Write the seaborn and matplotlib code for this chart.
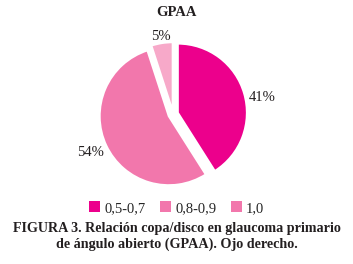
import numpy as np
import seaborn as sns
import matplotlib.pyplot as plt
from matplotlib.patches import Patch

categories = ["0,5-0,7", "0,8-0,9", "1,0"]
values = [41, 54, 5]
colors = ["#EC008C", "#F277AC", "#F7A9C9"]
legend_colors = ["#EC008C", "#F277AC", "#F277AC"]
title = "GPAA"
caption = "FIGURA 3. Relación copa/disco en glaucoma primario\nde ángulo abierto (GPAA). Ojo derecho."

sns.set_theme(style="white")
plt.rcParams["font.family"] = ["Liberation Serif", "DejaVu Serif"]

fig = plt.figure(figsize=(3.53, 2.64), dpi=100)
ax = fig.add_axes([0.275, 0.28, 0.431, 0.576])

wedges, texts, pcts = ax.pie(
    values, colors=colors, startangle=90, counterclock=False,
    explode=[0.07, 0.07, 0.04],
    autopct=lambda p: f"{p:.0f}%", pctdistance=1.3,
    wedgeprops=dict(edgecolor="white", linewidth=1.5),
    textprops=dict(fontsize=10.5, color="#231F20"),
)
# label placement per slice: distance and small angle shift
label_dist = [1.31, 1.32, 1.13]
label_shift = [-5.5, 0, 0]
for w, t, d, s in zip(wedges, pcts, label_dist, label_shift):
    ang = np.deg2rad((w.theta1 + w.theta2) / 2 + s)
    t.set_position((d * np.cos(ang), d * np.sin(ang)))

ax.set_xlim(-1.1, 1.1)
ax.set_ylim(-1.1, 1.1)
ax.set_aspect("equal")

fig.text(0.5, 0.953, title, ha="center", va="center", fontsize=10.5,
         fontweight="bold", color="#231F20")

handles = [Patch(facecolor=c, edgecolor="none") for c in legend_colors]
fig.legend(handles, categories, loc="center", bbox_to_anchor=(0.5, 0.212),
           ncol=3, frameon=False, fontsize=10.5, handlelength=0.75,
           handleheight=0.75, handletextpad=0.3, columnspacing=1.0)

fig.text(0.5, 0.104, caption, ha="center", va="center", fontsize=10.2,
         fontweight="bold", color="#231F20", linespacing=1.3)

fig.savefig("out.png", dpi=100)
